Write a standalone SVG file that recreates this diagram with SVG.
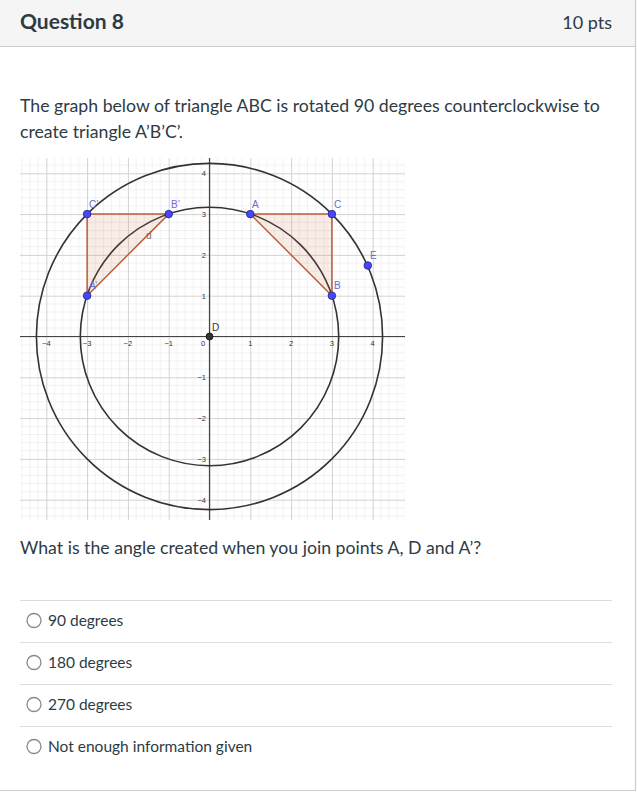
<svg xmlns="http://www.w3.org/2000/svg" width="638" height="794" viewBox="0 0 638 794">
<style>
.t{font-family:Lato,"Open Sans","Liberation Sans",sans-serif;fill:#2d3b45}
.body{font-size:17.7px}
.opt{font-size:15.5px}
.tick{font-family:"Liberation Sans",Arial,sans-serif;font-size:7.5px;fill:#333}
.pl{font-family:"Liberation Sans",Arial,sans-serif;font-size:10px;fill:#6b6bd8}
.sep{stroke:#dcdcdc;stroke-width:1}
.radio{fill:#fff;stroke:#8a8a8a;stroke-width:1.3}
.circ{fill:none;stroke:#333;stroke-width:1.6}
.tri{fill:#cc6633;fill-opacity:0.12;stroke:#b8603a;stroke-width:1.5;stroke-linejoin:round}
.pt{fill:#4747ff;stroke:#1f1f80;stroke-width:0.8}
</style>
<defs>
<pattern id="grid" patternUnits="userSpaceOnUse" x="209.5" y="336.5" width="40.8" height="40.8">
<path d="M8.16 0V40.8M16.32 0V40.8M24.48 0V40.8M32.64 0V40.8M0 8.16H40.8M0 16.32H40.8M0 24.48H40.8M0 32.64H40.8" stroke="#f1f1f1" stroke-width="1"/>
<path d="M0 0V40.8M0 0H40.8" stroke="#d2d2d2" stroke-width="2"/>
</pattern>
</defs>
<rect width="638" height="794" fill="#fff"/>
<g id="header">
<rect x="0" y="0" width="635" height="46" fill="#f5f5f5"/>
<line x1="0" y1="46.5" x2="635" y2="46.5" stroke="#c7cdd1" stroke-width="1.2"/>
<text class="t" x="20" y="29" font-size="21" font-weight="bold">Question 8</text>
<text class="t" x="612" y="29" font-size="18" text-anchor="end">10 pts</text>
</g>
<line x1="635.5" y1="0" x2="635.5" y2="791" stroke="#c7cdd1" stroke-width="1.2"/>
<line x1="0" y1="790.5" x2="636" y2="790.5" stroke="#c7cdd1" stroke-width="1.2"/>
<g id="prompt">
<text class="t body" x="20" y="112">The graph below of triangle ABC is rotated 90 degrees counterclockwise to</text>
<text class="t body" x="20" y="138">create triangle A’B’C’.</text>
</g>
<g id="graph">
<rect x="20" y="158" width="385" height="362" fill="url(#grid)"/>
<g id="axes" stroke="#444" stroke-width="1.2">
<line x1="20" y1="336.5" x2="405" y2="336.5"/>
<line x1="209.5" y1="158" x2="209.5" y2="520"/>
</g>
<g id="ticks">
<text class="tick" x="46.3" y="346" text-anchor="middle">−4</text>
<text class="tick" x="87.1" y="346" text-anchor="middle">−3</text>
<text class="tick" x="127.9" y="346" text-anchor="middle">−2</text>
<text class="tick" x="168.7" y="346" text-anchor="middle">−1</text>
<text class="tick" x="203" y="346" text-anchor="middle">0</text>
<text class="tick" x="250.3" y="346" text-anchor="middle">1</text>
<text class="tick" x="291.1" y="346" text-anchor="middle">2</text>
<text class="tick" x="331.9" y="346" text-anchor="middle">3</text>
<text class="tick" x="372.7" y="346" text-anchor="middle">4</text>
<text class="tick" x="206" y="176" text-anchor="end">4</text>
<text class="tick" x="206" y="217" text-anchor="end">3</text>
<text class="tick" x="206" y="258" text-anchor="end">2</text>
<text class="tick" x="206" y="298.5" text-anchor="end">1</text>
<text class="tick" x="206" y="380" text-anchor="end">−1</text>
<text class="tick" x="206" y="421" text-anchor="end">−2</text>
<text class="tick" x="206" y="461.5" text-anchor="end">−3</text>
<text class="tick" x="206" y="502.5" text-anchor="end">−4</text>
</g>
<g id="circles">
<circle class="circ" cx="209.5" cy="336.5" r="129.2"/>
<circle class="circ" cx="209.5" cy="336.5" r="173.1"/>
</g>
<g id="triangle-ABC">
<polygon class="tri" points="250.3,214.1 331.9,214.1 331.9,295.7"/>
</g>
<g id="triangle-A1B1C1">
<polygon class="tri" points="87.1,295.7 87.1,214.1 168.7,214.1"/>
<text x="146" y="239" font-family="Liberation Sans,Arial,sans-serif" font-size="10" fill="#8a6a50">d</text>
</g>
<g id="points">
<circle class="pt" cx="250.3" cy="214.1" r="3.8"/>
<circle class="pt" cx="331.9" cy="214.1" r="3.8"/>
<circle class="pt" cx="331.9" cy="295.7" r="3.8"/>
<circle class="pt" cx="87.1" cy="295.7" r="3.8"/>
<circle class="pt" cx="168.7" cy="214.1" r="3.8"/>
<circle class="pt" cx="87.1" cy="214.1" r="3.8"/>
<circle class="pt" cx="367.8" cy="265.5" r="3.8"/>
<circle cx="209.5" cy="336.5" r="3.5" fill="#333" stroke="#111" stroke-width="0.8"/>
</g>
<g id="point-labels">
<text class="pl" x="252" y="208">A</text>
<text class="pl" x="334" y="208">C</text>
<text class="pl" x="334" y="289">B</text>
<text class="pl" x="370" y="259">E</text>
<text class="pl" x="89" y="208">C’</text>
<text class="pl" x="171" y="208">B’</text>
<text class="pl" x="89" y="289">A’</text>
<text x="212" y="331" font-family="Liberation Sans,Arial,sans-serif" font-size="10" fill="#333">D</text>
</g>
</g>
<g id="question">
<text class="t body" x="20" y="554">What is the angle created when you join points A, D and A’?</text>
</g>
<g id="options">
<line class="sep" x1="20" y1="600.5" x2="612" y2="600.5"/>
<line class="sep" x1="20" y1="642.5" x2="612" y2="642.5"/>
<line class="sep" x1="20" y1="684.5" x2="612" y2="684.5"/>
<line class="sep" x1="20" y1="726.5" x2="612" y2="726.5"/>
<g id="opt1"><circle class="radio" cx="34" cy="620.5" r="7"/><text class="t opt" x="48" y="626">90 degrees</text></g>
<g id="opt2"><circle class="radio" cx="34" cy="662.5" r="7"/><text class="t opt" x="48" y="668">180 degrees</text></g>
<g id="opt3"><circle class="radio" cx="34" cy="704.5" r="7"/><text class="t opt" x="48" y="710">270 degrees</text></g>
<g id="opt4"><circle class="radio" cx="34" cy="746.5" r="7"/><text class="t opt" x="48" y="752">Not enough information given</text></g>
</g>
</svg>
